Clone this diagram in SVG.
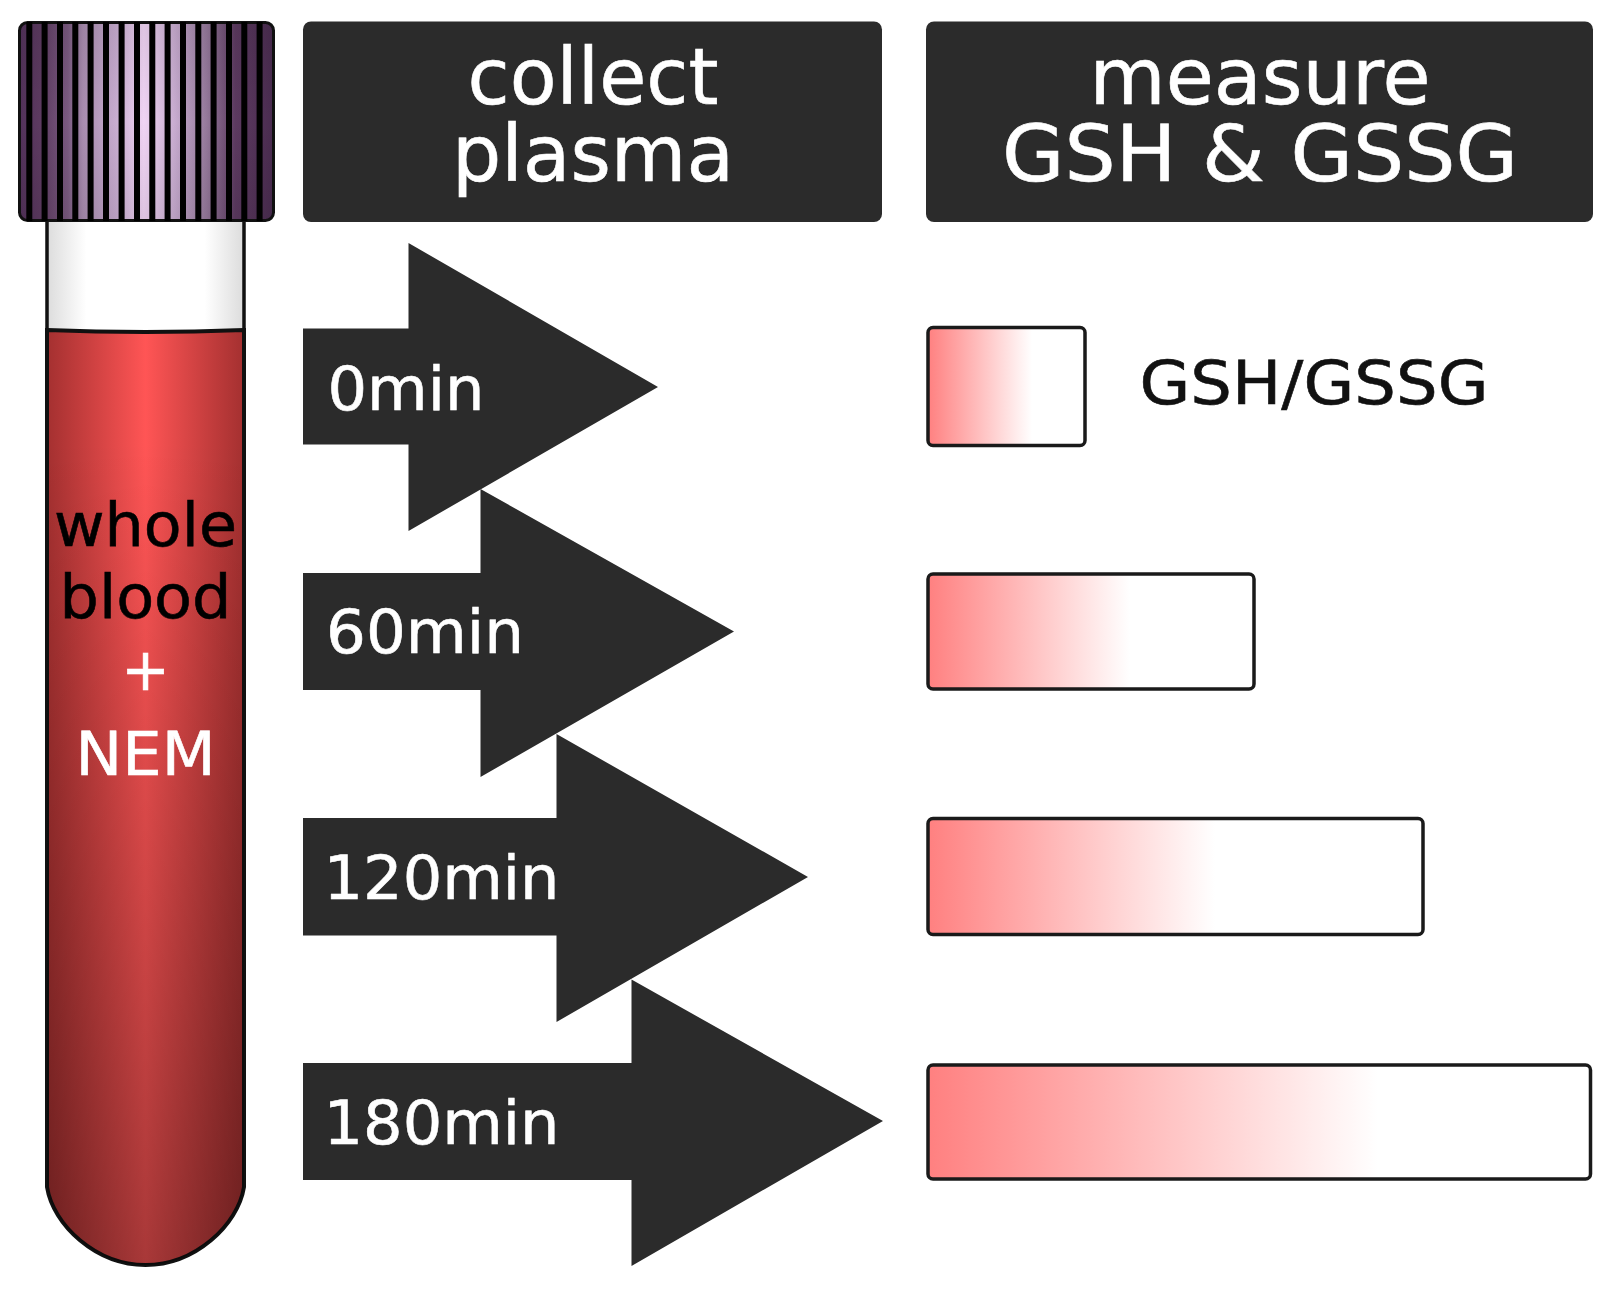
<svg xmlns="http://www.w3.org/2000/svg" width="1610" height="1290" viewBox="0 0 1610 1290">
<style>
.t{font-family:"DejaVu Sans","Liberation Sans",sans-serif;text-anchor:middle;stroke-width:.6px}
.h{font-size:78px;fill:#fff;stroke:#fff}
.a{font-size:61px;fill:#fff;stroke:#fff;text-anchor:start}
.d{fill:#2b2b2b}
.b{stroke:#1a1a1a;stroke-width:3.500}
</style>
<defs>
<linearGradient id="cap" x1="0" x2="1" y1="0" y2="0">
<stop offset="0" stop-color="#52325a"/><stop offset=".08" stop-color="#5c3a60"/><stop offset=".19" stop-color="#7a5a80"/><stop offset=".25" stop-color="#a98db0"/><stop offset=".38" stop-color="#c8acd0"/><stop offset=".49" stop-color="#f0d4f4"/><stop offset=".61" stop-color="#c8acd0"/><stop offset=".735" stop-color="#967a9c"/><stop offset=".85" stop-color="#5c3a60"/><stop offset="1" stop-color="#4a2c50"/>
</linearGradient>
<linearGradient id="shade" x1="0" x2="0" y1="0" y2="1">
<stop offset="0" stop-color="#000" stop-opacity=".08"/><stop offset=".5" stop-color="#000" stop-opacity="0"/><stop offset="1" stop-color="#000" stop-opacity=".08"/>
</linearGradient>
<linearGradient id="glass" x1="0" x2="1" y1="0" y2="0">
<stop offset="0" stop-color="#dcdcdc"/><stop offset=".2" stop-color="#fff"/><stop offset=".8" stop-color="#fff"/><stop offset="1" stop-color="#dcdcdc"/>
</linearGradient>
<linearGradient id="blood" x1="0" x2="1" y1="0" y2="0">
<stop offset="0" stop-color="#a43030"/><stop offset=".5" stop-color="#ff5555"/><stop offset="1" stop-color="#a43030"/>
</linearGradient>
<linearGradient id="bshade" x1="0" x2="0" y1="0" y2="1">
<stop offset="0" stop-color="#000" stop-opacity="0"/><stop offset=".12" stop-color="#000" stop-opacity="0"/><stop offset="1" stop-color="#000" stop-opacity=".34"/>
</linearGradient>
<linearGradient id="g1" gradientUnits="userSpaceOnUse" x1="928" x2="1032" y1="0" y2="0"><stop offset="0" stop-color="#ff8080"/><stop offset="1" stop-color="#fff"/></linearGradient>
<linearGradient id="g2" gradientUnits="userSpaceOnUse" x1="928" x2="1130" y1="0" y2="0"><stop offset="0" stop-color="#ff8080"/><stop offset="1" stop-color="#fff"/></linearGradient>
<linearGradient id="g3" gradientUnits="userSpaceOnUse" x1="928" x2="1215" y1="0" y2="0"><stop offset="0" stop-color="#ff8080"/><stop offset="1" stop-color="#fff"/></linearGradient>
<linearGradient id="g4" gradientUnits="userSpaceOnUse" x1="928" x2="1378" y1="0" y2="0"><stop offset="0" stop-color="#ff8080"/><stop offset="1" stop-color="#fff"/></linearGradient>
</defs>
<rect width="1610" height="1290" fill="#fff"/>
<g id="tube">
<rect x="47" y="215" width="197" height="125" fill="url(#glass)" stroke="#111" stroke-width="3.500"/>
<path d="M47 330Q145 334 244 330V1187C238 1225 195 1265 145.500 1265C96 1265 53 1225 47 1187Z" fill="url(#blood)" stroke="#111" stroke-width="4"/>
<path d="M47 330Q145 334 244 330V1187C238 1225 195 1265 145.500 1265C96 1265 53 1225 47 1187Z" fill="url(#bshade)"/>
<rect x="19.500" y="22.500" width="254" height="198" rx="8" fill="url(#cap)" stroke="#111" stroke-width="3"/>
<rect x="19.500" y="22.500" width="254" height="198" rx="8" fill="url(#shade)"/>
<path d="M29.300 22V221M44.600 22V221M60 22V221M75.300 22V221M90.600 22V221M106 22V221M121.600 22V221M137 22V221M152.300 22V221M167.600 22V221M183 22V221M198.300 22V221M213.600 22V221M229 22V221M244.300 22V221M259.600 22V221" stroke="#000" stroke-width="6" fill="none"/>
<text class="t" x="145.500" y="546" font-size="60" fill="#000" stroke="#000" textLength="183" lengthAdjust="spacingAndGlyphs">whole</text>
<text class="t" x="145.500" y="618" font-size="60" fill="#000" stroke="#000" textLength="172" lengthAdjust="spacingAndGlyphs">blood</text>
<text class="t" x="145.500" y="690" font-size="58" fill="#fff" stroke="#fff">+</text>
<text class="t" x="145.500" y="775" font-size="60" fill="#fff" stroke="#fff" textLength="140" lengthAdjust="spacingAndGlyphs">NEM</text>
</g>
<g id="header-collect">
<rect class="d" x="303" y="21.500" width="579" height="200.500" rx="8"/>
<text class="t h" x="593" y="104" textLength="251" lengthAdjust="spacingAndGlyphs">collect</text>
<text class="t h" x="593" y="181" textLength="282" lengthAdjust="spacingAndGlyphs">plasma</text>
</g>
<g id="header-measure">
<rect class="d" x="926" y="21.500" width="667" height="200.500" rx="8"/>
<text class="t h" x="1260" y="104" textLength="341" lengthAdjust="spacingAndGlyphs">measure</text>
<text class="t h" x="1260" y="181" textLength="516" lengthAdjust="spacingAndGlyphs">GSH &amp; GSSG</text>
</g>
<g id="connectors">
<path id="arrow-180" class="d" d="M303 1063H631.500V979.500L883 1121L631.500 1266V1180H303Z"/>
<path id="arrow-120" class="d" d="M303 818H556.500V734L808 877L556.500 1022V935.500H303Z"/>
<path id="arrow-60" class="d" d="M303 573H480.500V489L734 631.500L480.500 777V690H303Z"/>
<path id="arrow-0" class="d" d="M303 328.500H408.500V243L658 387L408.500 531V444.500H303Z"/>
</g>
<g id="label-0"><text class="t a" x="327.500" y="410" textLength="157" lengthAdjust="spacingAndGlyphs">0min</text></g>
<g id="label-60"><text class="t a" x="326" y="653" textLength="198" lengthAdjust="spacingAndGlyphs">60min</text></g>
<g id="label-120"><text class="t a" x="323.500" y="899" textLength="236" lengthAdjust="spacingAndGlyphs">120min</text></g>
<g id="label-180"><text class="t a" x="323.500" y="1144" textLength="236" lengthAdjust="spacingAndGlyphs">180min</text></g>
<g id="bar-0"><rect class="b" x="928" y="327.500" width="157" height="118" rx="5" fill="url(#g1)"/></g>
<g id="bar-60"><rect class="b" x="928" y="574" width="326" height="115" rx="5" fill="url(#g2)"/></g>
<g id="bar-120"><rect class="b" x="928" y="818.500" width="495" height="116" rx="5" fill="url(#g3)"/></g>
<g id="bar-180"><rect class="b" x="928" y="1065" width="662.500" height="114" rx="5" fill="url(#g4)"/></g>
<g id="legend-label"><text class="t" x="1314" y="404" font-size="61" fill="#111" stroke="#111" textLength="349" lengthAdjust="spacingAndGlyphs">GSH/GSSG</text></g>
</svg>
